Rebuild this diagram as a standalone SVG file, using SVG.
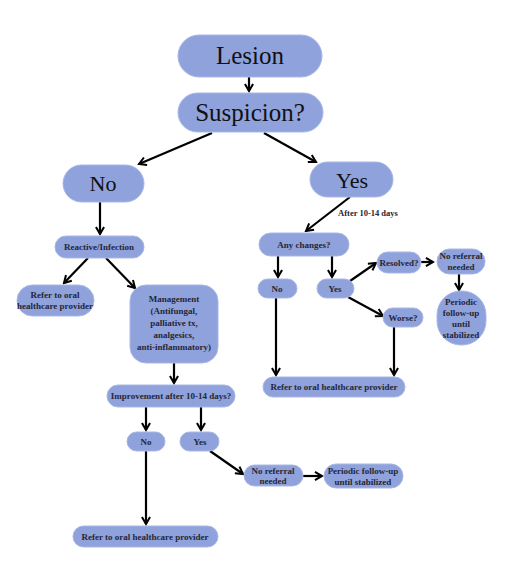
<svg xmlns="http://www.w3.org/2000/svg" width="505" height="573" viewBox="0 0 505 573">
<style>
.n{fill:#8fa2dc;stroke:#a9b7e6;stroke-width:1}
.big{font-family:"Liberation Serif",serif;font-size:25px;fill:#111;text-anchor:middle}
.med{font-family:"Liberation Serif",serif;font-size:22px;fill:#111;text-anchor:middle}
.s{font-family:"Liberation Serif",serif;font-size:9px;font-weight:bold;fill:#262636;text-anchor:middle}
.c line{stroke:#000;stroke-width:2.2;marker-end:url(#a)}
</style>
<defs>
<marker id="a" viewBox="0 0 10 10" refX="8" refY="5" markerWidth="4.6" markerHeight="4.6" orient="auto" markerUnits="strokeWidth">
<path d="M1,1 L8,5 L1,9" fill="none" stroke="#000" stroke-width="2"/>
</marker>
</defs>
<rect width="505" height="573" fill="#fff"/>
<g class="c">
<line x1="249" y1="77" x2="249" y2="91"/>
<line x1="212" y1="133" x2="139" y2="164"/>
<line x1="264" y1="133" x2="316" y2="162"/>
<line x1="100" y1="202" x2="100" y2="234"/>
<line x1="88" y1="258" x2="64" y2="283"/>
<line x1="106" y1="258" x2="135" y2="288"/>
<line x1="174" y1="363" x2="174" y2="383"/>
<line x1="146" y1="407" x2="146" y2="430"/>
<line x1="201" y1="407" x2="201" y2="430"/>
<line x1="146" y1="451" x2="146" y2="524"/>
<line x1="210" y1="451" x2="243" y2="474"/>
<line x1="303" y1="476" x2="322" y2="476"/>
<line x1="350" y1="197" x2="306" y2="231"/>
<line x1="278" y1="256" x2="278" y2="277"/>
<line x1="332" y1="256" x2="332" y2="277"/>
<line x1="350" y1="281" x2="376" y2="263"/>
<line x1="421" y1="262" x2="433" y2="262"/>
<line x1="459" y1="274" x2="459" y2="290"/>
<line x1="348" y1="297" x2="383" y2="316"/>
<line x1="276" y1="298" x2="276" y2="375"/>
<line x1="394" y1="327" x2="394" y2="375"/>
</g>
<g id="lesion"><rect class="n" x="178" y="35" width="144" height="42" rx="21"/><text class="big" x="250" y="64">Lesion</text></g>
<g id="suspicion"><rect class="n" x="178" y="93" width="145" height="39" rx="19.5"/><text class="big" x="250" y="121">Suspicion?</text></g>
<g id="no"><rect class="n" x="63" y="165" width="81" height="37" rx="18.5"/><text class="med" x="103" y="191">No</text></g>
<g id="yes"><rect class="n" x="310" y="162" width="83" height="35" rx="17.5"/><text class="med" x="352" y="188">Yes</text></g>
<g id="reactive"><rect class="n" x="55" y="236" width="89" height="22" rx="11"/><text class="s" x="99" y="250">Reactive/Infection</text></g>
<g id="refer1"><rect class="n" x="17" y="285" width="77" height="31" rx="15.5"/><text class="s" x="55" y="298">Refer to oral</text><text class="s" x="55" y="309">healthcare provider</text></g>
<g id="management"><rect class="n" x="130" y="285" width="88" height="78" rx="16"/>
<text class="s" x="174" y="302">Management</text><text class="s" x="174" y="314">(Antifungal,</text><text class="s" x="174" y="326">palliative tx,</text><text class="s" x="174" y="338">analgesics,</text><text class="s" x="174" y="350">anti-inflammatory)</text></g>
<g id="improvement"><rect class="n" x="107" y="385" width="128" height="22" rx="11"/><text class="s" x="171" y="399">Improvement after 10-14 days?</text></g>
<g id="no2"><rect class="n" x="127" y="432" width="38" height="19" rx="9.5"/><text class="s" x="146" y="445">No</text></g>
<g id="yes2"><rect class="n" x="180" y="432" width="39" height="19" rx="9.5"/><text class="s" x="200" y="445">Yes</text></g>
<g id="refer3"><rect class="n" x="73" y="526" width="145" height="21" rx="10.5"/><text class="s" x="145" y="540">Refer to oral healthcare provider</text></g>
<g id="noref2"><rect class="n" x="244" y="465" width="59" height="21" rx="10.5"/><text class="s" x="273" y="474">No referral</text><text class="s" x="273" y="484">needed</text></g>
<g id="periodic2"><rect class="n" x="324" y="464" width="79" height="24" rx="12"/><text class="s" x="363" y="474">Periodic follow-up</text><text class="s" x="363" y="485">until stabilized</text></g>
<text class="s" x="368" y="216" style="font-size:8.5px">After 10-14 days</text>
<g id="anychanges"><rect class="n" x="259" y="233" width="90" height="23" rx="11.5"/><text class="s" x="304" y="248">Any changes?</text></g>
<g id="no3"><rect class="n" x="258" y="279" width="39" height="19" rx="9.5"/><text class="s" x="277" y="292">No</text></g>
<g id="yes3"><rect class="n" x="317" y="279" width="37" height="19" rx="9.5"/><text class="s" x="335" y="292">Yes</text></g>
<g id="resolved"><rect class="n" x="377" y="252" width="44" height="21" rx="10.5"/><text class="s" x="399" y="266">Resolved?</text></g>
<g id="noref1"><rect class="n" x="437" y="249" width="48" height="25" rx="12.5"/><text class="s" x="461" y="259">No referral</text><text class="s" x="461" y="270">needed</text></g>
<g id="periodic1"><rect class="n" x="437" y="291" width="49" height="54" rx="24"/><text class="s" x="461" y="305">Periodic</text><text class="s" x="461" y="316">follow-up</text><text class="s" x="461" y="327">until</text><text class="s" x="461" y="338">stabilized</text></g>
<g id="worse"><rect class="n" x="383" y="308" width="40" height="19" rx="9.5"/><text class="s" x="403" y="321">Worse?</text></g>
<g id="refer2"><rect class="n" x="263" y="377" width="142" height="20" rx="10"/><text class="s" x="334" y="390">Refer to oral healthcare provider</text></g>
</svg>
